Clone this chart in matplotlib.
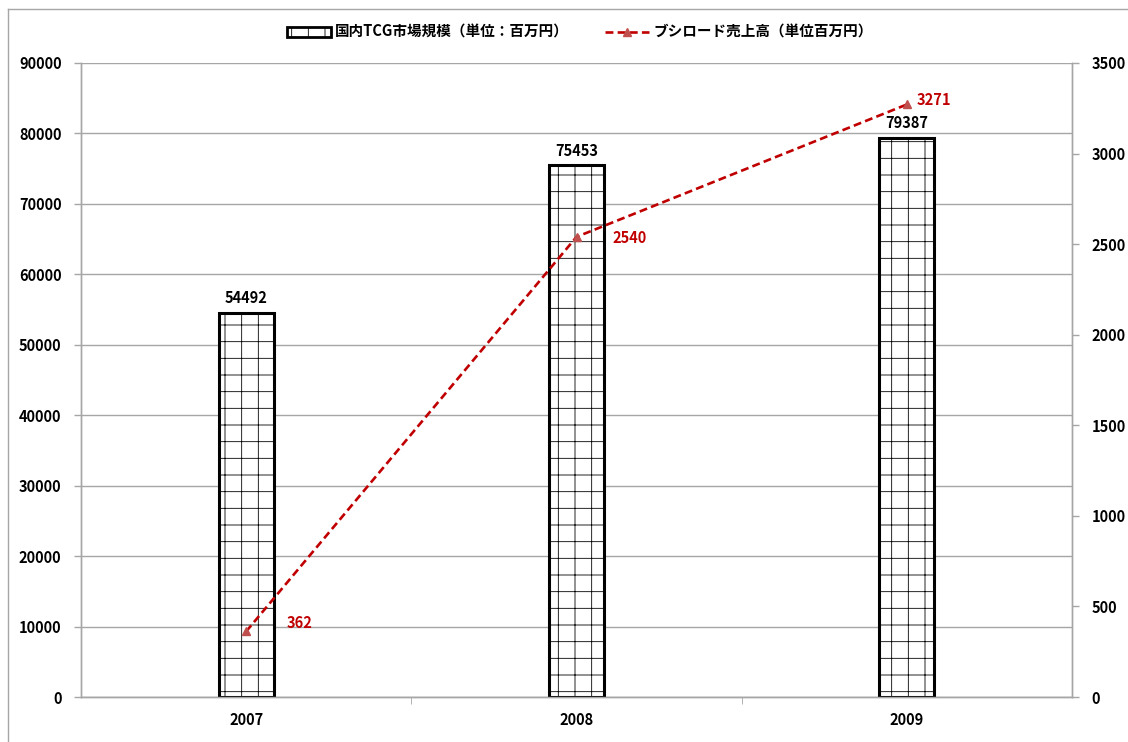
import numpy as np
import matplotlib
matplotlib.use("Agg")
import matplotlib.pyplot as plt
from matplotlib.lines import Line2D
from matplotlib.patches import Patch

plt.rcParams['font.family'] = ['Noto Sans CJK JP', 'DejaVu Sans']
plt.rcParams['hatch.linewidth'] = 0.6
plt.rcParams['hatch.color'] = '#777777'

years = ["2007", "2008", "2009"]
market = [54492, 75453, 79387]          # 国内TCG市場規模
bushiroad = [362, 2540, 3271]           # ブシロード売上高

label_bar = "国内TCG市場規模（単位：百万円）"
label_line = "ブシロード売上高（単位百万円）"

GRAY = "#a6a6a6"
RED = "#c00000"
FS = 10.5

fig = plt.figure(figsize=(11.28, 7.42), dpi=100)
ax = fig.add_axes([81 / 1128, 1 - 697 / 742, (1072 - 81) / 1128, (697 - 63) / 742])
ax2 = ax.twinx()

x = np.arange(len(years))
bars = ax.bar(x, market, width=0.167, color="white", edgecolor="black",
              linewidth=2.2, hatch="+", zorder=3)
for xi, v in zip(x, market):
    ax.annotate(str(v), (xi, v), xytext=(0, 5), textcoords="offset points",
                ha="center", va="bottom", fontsize=FS, fontweight="bold")

ax2.plot(x, bushiroad, color=RED, linestyle=(0, (3, 1.6)), linewidth=1.9,
         marker="^", markersize=6, markerfacecolor="#c0504d",
         markeredgecolor="#c0504d", zorder=4)
# label offsets (points) as Excel placed them
label_offsets = [(29, 6), (26, -1), (7, 3)]
for xi, v, off in zip(x, bushiroad, label_offsets):
    ax2.annotate(str(v), (xi, v), xytext=off, textcoords="offset points",
                 ha="left", va="center", fontsize=FS, fontweight="bold", color=RED)

ax.set_xlim(-0.5, 2.5)
ax.set_ylim(0, 90000)
ax2.set_ylim(0, 3500)
ax.set_yticks(np.arange(0, 90001, 10000))
ax2.set_yticks(np.arange(0, 3501, 500))
ax.set_xticks(x)
ax.set_xticklabels(years)
ax.set_xticks([0.5, 1.5], minor=True)

ax.grid(axis="y", color=GRAY, linewidth=1.0, zorder=0)
ax.set_axisbelow(True)

for a in (ax, ax2):
    for s in a.spines.values():
        s.set_color(GRAY)
        s.set_linewidth(1.0)
    a.spines["top"].set_visible(False)
    a.tick_params(colors=GRAY, labelcolor="black", labelsize=FS, width=1.0)
    for lab in a.get_yticklabels() + a.get_xticklabels():
        lab.set_fontweight("bold")

ax.tick_params(axis="y", length=5, pad=9)
ax2.tick_params(axis="y", length=5, pad=9)
ax.tick_params(axis="x", which="major", length=0, pad=11)
ax.tick_params(axis="x", which="minor", length=5, color=GRAY)

handles = [
    Patch(facecolor="white", edgecolor="black", linewidth=2.0, hatch="+"),
    Line2D([], [], color=RED, linestyle=(0, (3, 1.6)), linewidth=1.9,
           marker="^", markersize=6, markerfacecolor="#c0504d",
           markeredgecolor="#c0504d"),
]
leg = fig.legend(handles, [label_bar, label_line], loc="center",
                 bbox_to_anchor=(580 / 1128, 1 - 32 / 742), ncol=2,
                 frameon=False, columnspacing=2.5, handlelength=3.0,
                 handletextpad=0.3, prop={"weight": "bold", "size": FS})

# chart area border
fig.add_artist(Line2D([8 / 1128, 8 / 1128], [1 - 9 / 742, 0], color=GRAY,
                      linewidth=1.0, transform=fig.transFigure))
fig.add_artist(Line2D([8 / 1128, 1], [1 - 9 / 742, 1 - 9 / 742], color=GRAY,
                      linewidth=1.0, transform=fig.transFigure))

fig.savefig("out.png", dpi=100)
